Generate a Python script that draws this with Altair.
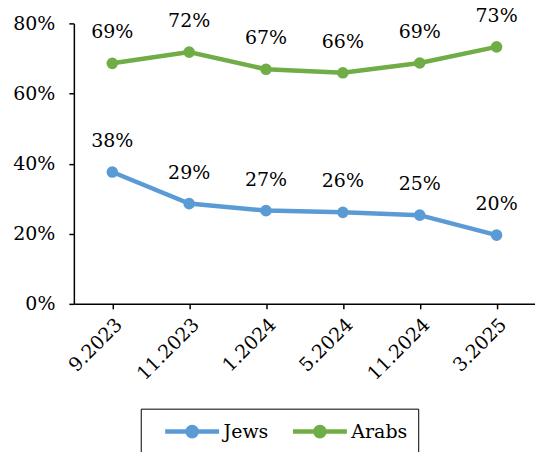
import altair as alt
import pandas as pd

# Survey waves and the share (0-1) for each group
periods = ["9.2023", "11.2023", "1.2024", "5.2024", "11.2024", "3.2025"]
jews = [0.376, 0.286, 0.266, 0.261, 0.253, 0.196]
arabs = [0.686, 0.718, 0.669, 0.659, 0.687, 0.733]
series_names = ["Jews", "Arabs"]
series_colors = ["#5B9BD5", "#70AD47"]
y_ticks = [0, 0.2, 0.4, 0.6, 0.8]

rows = []
for name, vals in zip(series_names, [jews, arabs]):
    for p, v in zip(periods, vals):
        rows.append({"period": p, "series": name, "value": v})
df = pd.DataFrame(rows)

FONT = "DejaVu Serif"
FS = 19

# line-with-dot glyph for the legend (unit = 10 px at symbolSize 400),
# drawn to the right of the nominal symbol box
legend_symbol = (
    "M0.2,0L5.6,0"
    "M2.44,0A0.46,0.46,0,1,0,3.36,0A0.46,0.46,0,1,0,2.44,0Z"
)

x_enc = alt.X(
    "period:N",
    sort=periods,
    scale=alt.Scale(type="point", padding=0.5),
    axis=alt.Axis(title=None, labelAngle=-45, labelPadding=6, tickSize=5),
)
y_enc = alt.Y(
    "value:Q",
    scale=alt.Scale(domain=[0, 0.8], nice=False),
    axis=alt.Axis(
        title=None, format=".0%", values=y_ticks, grid=False,
        tickSize=5, labelPadding=14,
    ),
)

lines = alt.Chart(df).mark_line(
    strokeWidth=4.5,
    point=alt.OverlayMarkDef(filled=True, size=135, opacity=1),
).encode(
    x=x_enc,
    y=y_enc,
    color=alt.Color(
        "series:N",
        sort=series_names,
        scale=alt.Scale(domain=series_names, range=series_colors),
        legend=alt.Legend(
            title=None,
            orient="none",
            legendX=67,
            legendY=386,
            direction="horizontal",
            strokeColor="black",
            padding=10,
            labelFont=FONT,
            labelFontSize=FS,
            labelColor="black",
            labelOffset=48,
            columnPadding=10,
            symbolType=legend_symbol,
            symbolSize=400,
            symbolStrokeWidth=4.5,
            symbolOpacity=1,
        ),
    ),
)

labels = alt.Chart(df).mark_text(
    dy=-25, baseline="alphabetic", font=FONT, fontSize=FS, color="black",
).encode(
    x=alt.X("period:N", sort=periods),
    y=alt.Y("value:Q"),
    text=alt.Text("value:Q", format=".0%"),
)

chart = alt.layer(lines, labels).properties(
    width=462,
    height=281,
    autosize=alt.AutoSizeParams(type="none"),
    padding={"left": 74, "top": 23, "right": 0, "bottom": 148},
).configure_view(
    stroke=None
).configure_axis(
    labelFont=FONT,
    labelFontSize=FS,
    labelColor="black",
    domainColor="black",
    domainWidth=1.5,
    tickColor="black",
    tickWidth=1.5,
)

chart.save("out.html", embed_options={"renderer": "svg", "actions": False})
